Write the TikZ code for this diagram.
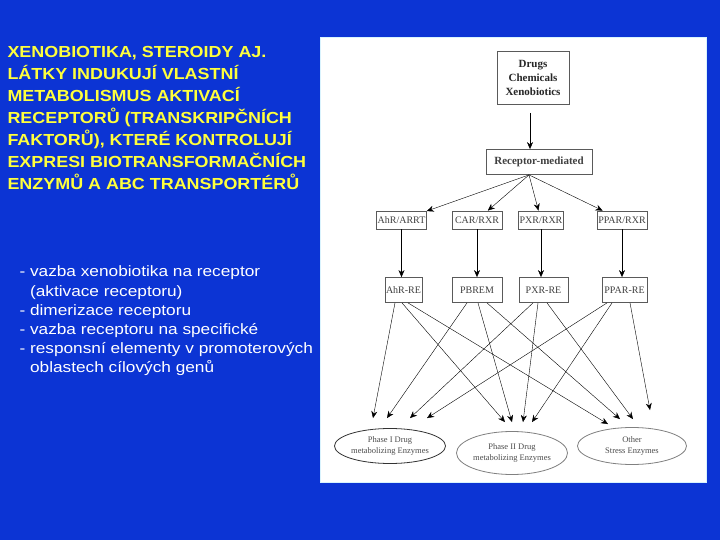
\documentclass[tikz,border=0pt]{standalone}
\usepackage{fontspec}
\setmainfont{Liberation Serif}
\newfontfamily\titlefont[FakeStretch=1.12]{Liberation Sans}
\newfontfamily\slidefont[FakeStretch=1.15]{Liberation Sans}
\definecolor{slblue}{RGB}{12,52,212}
\definecolor{slyellow}{RGB}{255,255,60}
\definecolor{boxgray}{RGB}{90,90,90}
\usetikzlibrary{arrows.meta, positioning, shapes.geometric}

\begin{document}
\begin{tikzpicture}[
  x=1pt, y=-1pt,
  drugbox/.style={rectangle, draw=boxgray, thick, fill=white,
    minimum width=72pt, minimum height=53pt, inner sep=1pt,
    align=center, font=\fontsize{11}{14}\selectfont\bfseries, text=black!85},
  recbox/.style={rectangle, draw=boxgray, thick,
    minimum width=#1, minimum height=18pt, inner sep=1pt,
    align=center, font=\fontsize{10}{12}\selectfont, text=black!75},
  rebox/.style={rectangle, draw=boxgray, thick,
    minimum width=#1, minimum height=25pt, inner sep=1pt,
    align=center, font=\fontsize{10}{12}\selectfont, text=black!75},
  enzyme/.style={ellipse, draw=black!80, thick,
    minimum width=#1, inner sep=0pt,
    align=center, font=\fontsize{8.5}{11}\selectfont, text=black!70},
  arr/.style={-{Stealth[length=7pt,width=6pt]}, thin, color=black},
  title/.style={anchor=north west, align=left, text=slyellow,
    font=\titlefont\fontsize{16}{22}\selectfont\bfseries},
  bullets/.style={anchor=north west, align=left, text=white,
    font=\slidefont\fontsize{15}{19.2}\selectfont}
]
  % slide background and figure panel
  \fill[slblue] (0,0) rectangle (720,540);
  \useasboundingbox (0,0) rectangle (720,540);
  \fill[white] (320,37) rectangle (706,482);
  \draw[cyan!15] (320,37) rectangle (706,482);

  % left text
  \node[title] (head) at (4,42.5)
    {XENOBIOTIKA, STEROIDY AJ.\\
     LÁTKY INDUKUJÍ VLASTNÍ\\
     METABOLISMUS AKTIVACÍ\\
     RECEPTORŮ (TRANSKRIPČNÍCH\\
     FAKTORŮ), KTERÉ KONTROLUJÍ\\
     EXPRESI BIOTRANSFORMAČNÍCH\\
     ENZYMŮ A ABC TRANSPORTÉRŮ};
  \node[bullets] (steps) at (16,262.5)
    {- vazba xenobiotika na receptor\\
     \phantom{- }(aktivace receptoru)\\
     - dimerizace receptoru\\
     - vazba receptoru na specifické\\
     - responsní elementy v promoterových\\
     \phantom{- }oblastech cílových genů};

  % diagram
  \node[drugbox] (drugs) at (533,78) {Drugs\\Chemicals\\Xenobiotics};
  \node[recbox=106pt, minimum height=25pt,
    font=\fontsize{11}{13}\selectfont\bfseries] (recep) at (539,162)
    {Receptor-mediated};
  \coordinate (drop) at ([xshift=-3pt, yshift=-8pt]drugs.south);
  \coordinate (hub) at ([xshift=-10pt]recep.south);

  \node[recbox=45pt] (ahr)  at (401.5,220) {AhR/ARRT};
  \node[recbox=50pt] (car)  at (477,220)   {CAR/RXR};
  \node[recbox=44pt] (pxr)  at (541,220)   {PXR/RXR};
  \node[recbox=50pt] (ppar) at (622,220)   {PPAR/RXR};

  \node[rebox=35pt] (ahrre) at (403.5,290) {AhR-RE};
  \node[rebox=50pt] (pbrem) at (477,290)   {PBREM};
  \node[rebox=49pt] (pxrre) at (543.5,290) {PXR-RE};
  \node[rebox=45pt] (pparre) at (624.5,290) {PPAR-RE};

  \node[enzyme=111pt, minimum height=35pt] (phone) at (390,446)
    {Phase I Drug\\metabolizing Enzymes};
  \node[enzyme=111pt, minimum height=43pt, draw=black!50] (phtwo) at (512,453)
    {Phase II Drug\\metabolizing Enzymes};
  \node[enzyme=109pt, minimum height=37pt, draw=black!50] (other) at (632,446)
    {Other\\Stress Enzymes};

  \draw[arr] (drop) -- (drop |- recep.north);
  \foreach \r in {ahr, car, pxr, ppar}
    \draw[arr] (hub) -- (\r);
  \draw[arr] (ahr.south)  -- (ahr.south |- ahrre.north);
  \draw[arr] (car.south)  -- (car.south |- pbrem.north);
  \draw[arr] (pxr.south)  -- (pxr.south |- pxrre.north);
  \draw[arr] (ppar.south) -- (ppar.south |- pparre.north);

  % response elements -> enzymes
  \foreach \s/\sx/\t/\tx/\ty in {
      ahrre/-8.5/phone/-17/10,  ahrre/-1.5/phtwo/-7/9,  ahrre/4.5/other/-24/3,
      pbrem/-10/phone/-3/10,    pbrem/1/phtwo/0/9,      pbrem/10/other/-12/8,
      pxrre/-10.5/phone/20/10,  pxrre/-5.5/phtwo/11/9,  pxrre/3.5/other/1/8,
      pparre/-17.5/phone/37/10, pparre/-12.5/phtwo/20/9, pparre/5.5/other/18/17}
    \draw[arr] ([xshift=\sx pt]\s.south) -- ([xshift=\tx pt, yshift=\ty pt]\t.north);
\end{tikzpicture}
\end{document}
